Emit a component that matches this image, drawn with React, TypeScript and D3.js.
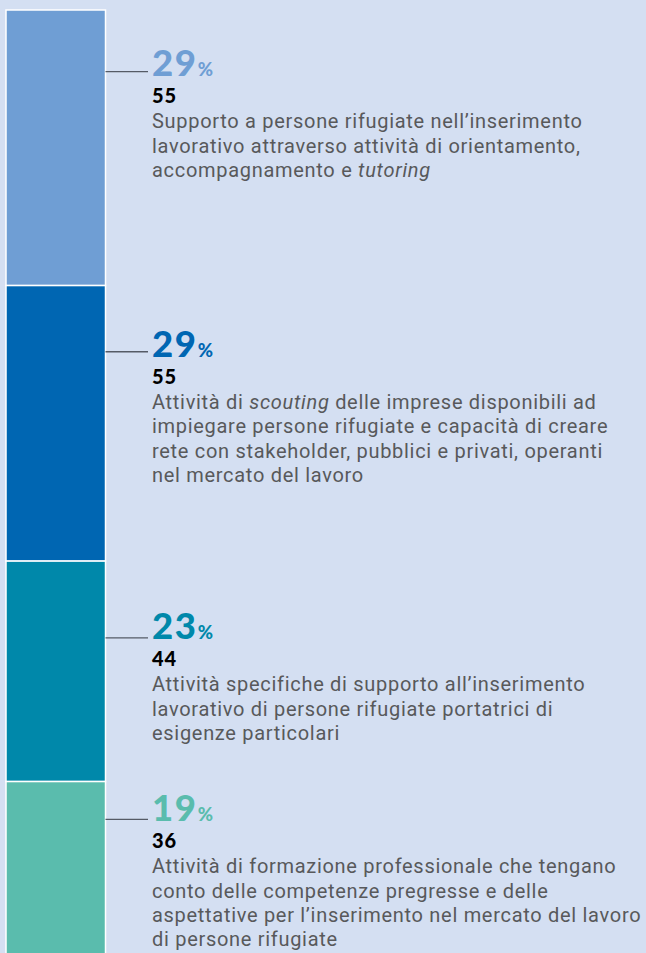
import React from "react";
import * as d3 from "d3";

const categories = ["orientamento", "scouting", "esigenze", "formazione"];
const counts = [55, 55, 44, 36];
const percents = [29, 29, 23, 19];
const colors = ["#6f9ed4", "#0066b2", "#0088aa", "#5abcad"];
// description lines; segments wrapped in * are italic
const descriptions = [
  [
    "Supporto a persone rifugiate nell’inserimento",
    "lavorativo attraverso attività di orientamento,",
    "accompagnamento e *tutoring*",
  ],
  [
    "Attività di *scouting* delle imprese disponibili ad",
    "impiegare persone rifugiate e capacità di creare",
    "rete con stakeholder, pubblici e privati, operanti",
    "nel mercato del lavoro",
  ],
  [
    "Attività specifiche di supporto all’inserimento",
    "lavorativo di persone rifugiate portatrici di",
    "esigenze particolari",
  ],
  [
    "Attività di formazione professionale che tengano",
    "conto delle competenze pregresse e delle",
    "aspettative per l’inserimento nel mercato del lavoro",
    "di persone rifugiate",
  ],
];

// layout
const W = 646;
const H = 953;
const barX0 = 6;
const barX1 = 105.5;
const top = 10;
const pxPerUnit = 5.01;
const leaderOffsets = [61.7, 66.2, 76.7, 37.8];
const textOffsets = [66, 71.2, 78, 39.5];
const leaderX1 = 148;
const textX = 152;
const lineH = 24.3;

function renderLine(line: string, key: number, y: number) {
  const parts = line.split("*");
  return (
    <text
      key={key}
      x={textX}
      y={y}
      fontSize={20}
      letterSpacing={0.7}
      fill="#58595b"
      fontFamily="Roboto, 'Open Sans', sans-serif"
    >
      {parts.map((p, i) => (
        <tspan key={i} fontStyle={i % 2 === 1 ? "italic" : "normal"}>
          {p}
        </tspan>
      ))}
    </text>
  );
}

export default function App() {
  const total = d3.sum(counts);
  const y = d3.scaleLinear().domain([0, total]).range([top, top + total * pxPerUnit]);
  const cum = d3.cumsum(counts);
  const starts = counts.map((c, i) => cum[i] - c);

  return (
    <svg
      width={W}
      height={H}
      style={{ position: "absolute", left: 0, top: 0, display: "block" }}
    >
      <rect x={0} y={0} width={W} height={H} fill="#d4dff2" />
      {categories.map((cat, i) => {
        const y0 = y(starts[i]);
        const y1 = y(cum[i]);
        const L = y0 + leaderOffsets[i];
        const T = y0 + textOffsets[i];
        return (
          <g key={cat}>
            <rect
              x={barX0}
              y={y0}
              width={barX1 - barX0}
              height={y1 - y0}
              fill={colors[i]}
              stroke="#ffffff"
              strokeWidth={1.5}
            />
            <line x1={barX1} x2={leaderX1} y1={L} y2={L} stroke="#555b66" strokeWidth={1.3} />
            <text
              x={textX}
              y={T}
              fill={colors[i]}
              fontFamily="Lato, sans-serif"
              fontWeight={900}
            >
              <tspan fontSize={36.5} letterSpacing={1.5}>{percents[i]}</tspan>
              <tspan fontSize={18.5} dx={0.5}>%</tspan>
            </text>
            <text
              x={textX}
              y={T + 27.3}
              fill="#000000"
              fontFamily="Lato, sans-serif"
              fontWeight={900}
              fontSize={20}
              letterSpacing={1}
            >
              {counts[i]}
            </text>
            {descriptions[i].map((line, j) => renderLine(line, j, T + 52.3 + j * lineH))}
          </g>
        );
      })}
    </svg>
  );
}
